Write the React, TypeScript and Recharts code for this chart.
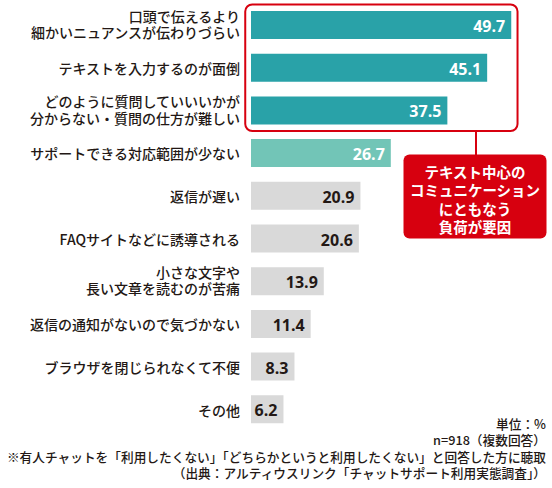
import React from 'react';
import { BarChart, Bar, XAxis, YAxis, Cell, LabelList, ReferenceArea } from 'recharts';

const categories = [
  '口頭で伝えるより\n細かいニュアンスが伝わりづらい',
  'テキストを入力するのが面倒',
  'どのように質問していいいかが\n分からない・質問の仕方が難しい',
  'サポートできる対応範囲が少ない',
  '返信が遅い',
  'FAQサイトなどに誘導される',
  '小さな文字や\n長い文章を読むのが苦痛',
  '返信の通知がないので気づかない',
  'ブラウザを閉じられなくて不便',
  'その他',
];
const values = [49.7, 45.1, 37.5, 26.7, 20.9, 20.6, 13.9, 11.4, 8.3, 6.2];
const groups = ['text', 'text', 'text', 'scope', 'other', 'other', 'other', 'other', 'other', 'other'];

const calloutLines = ['テキスト中心の', 'コミュニケーション', 'にともなう', '負荷が要因'];
const footnotes = [
  '単位：%',
  'n=918（複数回答）',
  '※有人チャットを「利用したくない」「どちらかというと利用したくない」と回答した方に聴取',
  '（出典：アルティウスリンク「チャットサポート利用実態調査」）',
];

const RED = '#d7000f';
const barColor: Record<string, string> = { text: '#29a2a8', scope: '#72c5b7', other: '#d9d9d9' };
const labelColor: Record<string, string> = { text: '#fff', scope: '#fff', other: '#231815' };

const data = categories.map((name, i) => ({ name, value: values[i], group: groups[i] }));

const FONT = '"Noto Sans CJK JP", "Noto Sans", sans-serif';

const CategoryTick = ({ x, y, payload }: any) => {
  const lines = String(payload.value).split('\n');
  const lh = 16.6;
  const start = -((lines.length - 1) * lh) / 2 - (lines.length > 1 ? 1.5 : 0);
  return (
    <text x={x} y={y} textAnchor="end" fontSize={14} fontWeight={500} fill="#231815" fontFamily={FONT}>
      {lines.map((l, i) => (
        <tspan key={i} x={x} y={y + start + i * lh} dominantBaseline="central">
          {l}
        </tspan>
      ))}
    </text>
  );
};

const ValueLabel = (props: any) => {
  const { x, y, width, height, value, index } = props;
  return (
    <text
      x={x + width - 6}
      y={y + height / 2 + 1}
      textAnchor="end"
      dominantBaseline="central"
      fontSize={16}
      fontWeight="bold"
      fontFamily='"Open Sans", sans-serif'
      fill={labelColor[groups[index]]}
    >
      {value.toFixed(1)}
    </text>
  );
};

export default function App() {
  return (
    <div style={{ position: 'absolute', left: 0, top: 0, width: 552, height: 488, background: '#fff' }}>
      <BarChart
        width={552}
        height={488}
        data={data}
        layout="vertical"
        margin={{ top: 4, right: 13, bottom: 57, left: 0 }}
      >
        <XAxis type="number" domain={[0, 55]} hide />
        <YAxis
          type="category"
          dataKey="name"
          width={251}
          axisLine={false}
          tickLine={false}
          tickSize={0}
          tickMargin={11}
          interval={0}
          tick={<CategoryTick />}
        />
        <ReferenceArea
          y1={categories[0]}
          y2={categories[2]}
          x1={-1.1}
          x2={50.9}
          ifOverflow="visible"
          shape={(p: any) => (
            <rect
              x={p.x}
              y={p.y + 0.5}
              width={p.width}
              height={p.height - 1.5}
              rx={7}
              fill="none"
              stroke={RED}
              strokeWidth={2}
            />
          )}
        />
        <Bar dataKey="value" barSize={28} isAnimationActive={false}>
          {data.map((d, i) => (
            <Cell key={i} fill={barColor[d.group]} />
          ))}
          <LabelList dataKey="value" content={<ValueLabel />} />
        </Bar>
      </BarChart>
      <svg
        width={552}
        height={488}
        style={{ position: 'absolute', left: 0, top: 0, pointerEvents: 'none' }}
        fontFamily={FONT}
      >
        <line x1={476} y1={130} x2={476} y2={155} stroke={RED} strokeWidth={2} />
        <rect x={403.5} y={154.5} width={143} height={84} rx={6} fill={RED} />
        {calloutLines.map((t, i) => (
          <text
            key={i}
            x={475}
            y={171.5 + i * 18.4}
            textAnchor="middle"
            dominantBaseline="central"
            fontSize={14.5}
            fontWeight="bold"
            fill="#fff"
          >
            {t}
          </text>
        ))}
        {footnotes.map((t, i) => (
          <text
            key={i}
            x={546}
            y={423 + i * 16.6}
            textAnchor="end"
            dominantBaseline="central"
            fontSize={12.7}
            fontWeight={500}
            fill="#231815"
          >
            {t}
          </text>
        ))}
      </svg>
    </div>
  );
}
